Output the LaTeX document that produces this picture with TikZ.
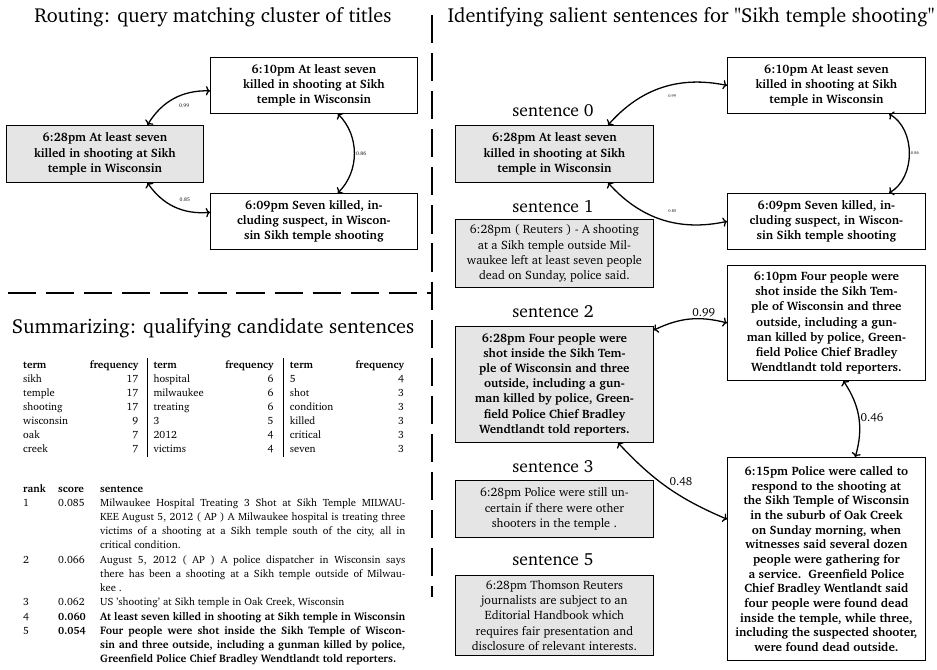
\documentclass[tikz,border=0pt]{standalone}
\usepackage[T1]{fontenc}
\renewcommand{\rmdefault}{bch}
\usetikzlibrary{calc,arrows.meta}
\definecolor{BoxClr}{gray}{0.9}
\setlength{\arrayrulewidth}{0.6pt}

\begin{document}
\begin{tikzpicture}[x=0.03cm,y=0.03cm,>={To[length=3.5pt,width=8pt]},
  head/.style={font=\fontsize{17.3}{20}\selectfont},
  sent/.style={font=\fontsize{15}{18}\selectfont},
  tbox/.style={draw,line width=0.7pt,anchor=north west,align=center,inner sep=2pt,font=\fontsize{10.4}{13}\selectfont\bfseries},
  rbox/.style={tbox,font=\fontsize{10.4}{13}\selectfont},
  link/.style={<->,line width=1.1pt},
  wlab/.style={font=\fontsize{4.5}{5}\selectfont,inner sep=1pt},
  tlab/.style={font=\fontsize{3.5}{4}\selectfont,inner sep=1pt},
  nlab/.style={font=\fontsize{10}{12}\selectfont,inner sep=1pt},
  sepline/.style={line width=0.9pt,dash pattern=on 24pt off 8.5pt}]
\useasboundingbox (0,0) rectangle (937,-669);

\node[head] (TR) at (213,-17) {Routing: query matching cluster of titles};
\node[head] (TS) at (213,-328) {Summarizing: qualifying candidate sentences};
\node[head] (TI) at (691,-17) {Identifying salient sentences for "Sikh temple shooting"};

\draw[sepline] (432,-15) -- (432,-597);
\draw[sepline] (8,-293) -- (432,-293);

\node[tbox,minimum width=6.21cm,minimum height=1.68cm] (LA) at (210,-57) {6:10pm At least seven\\killed in shooting at Sikh\\temple in Wisconsin};
\node[tbox,fill=BoxClr,minimum width=5.91cm,minimum height=1.71cm] (LB) at (6,-125) {6:28pm At least seven\\killed in shooting at Sikh\\temple in Wisconsin};
\node[tbox,minimum width=6.21cm,minimum height=1.68cm] (LC) at (210,-193) {6:09pm Seven killed, in-\\cluding suspect, in Wiscon-\\sin Sikh temple shooting};

\draw[link] ($(LB.north)!.43!(LB.north east)$) to[bend left=30] node[midway,below right=3pt,wlab] (W1) {0.99} (LA.183);
\draw[link] ($(LB.south)!.43!(LB.south east)$) to[bend right=30] node[midway,above right=3pt,wlab] (W2) {0.85} (LC.175);
\draw[link] ($(LA.south)!.23!(LA.south east)$) to[bend left=45] node[midway,right,wlab] (W3) {0.86} ($(LC.north)!.23!(LC.north east)$);

\node[sent] (L0) at (553,-111) {sentence 0};
\node[sent] (L1) at (553,-207) {sentence 1};
\node[sent] (L2) at (553,-312) {sentence 2};
\node[sent] (L3) at (553,-467) {sentence 3};
\node[sent] (L5) at (553,-560) {sentence 5};

\node[tbox,minimum width=5.94cm,minimum height=1.68cm] (RA) at (727,-57) {6:10pm At least seven\\killed in shooting at Sikh\\temple in Wisconsin};
\node[tbox,fill=BoxClr,minimum width=5.94cm,minimum height=1.71cm] (RB) at (455,-125) {6:28pm At least seven\\killed in shooting at Sikh\\temple in Wisconsin};
\node[tbox,minimum width=5.94cm,minimum height=1.68cm] (RC) at (727,-193) {6:09pm Seven killed, in-\\cluding suspect, in Wiscon-\\sin Sikh temple shooting};
\node[rbox,fill=BoxClr,minimum width=5.94cm,minimum height=2.04cm] (S1) at (455,-219) {6:28pm ( Reuters ) - A shooting\\at a Sikh temple outside Mil-\\waukee left at least seven people\\dead on Sunday, police said.};
\node[tbox,fill=BoxClr,minimum width=5.94cm,minimum height=3.48cm] (S2) at (455,-326) {6:28pm Four people were\\shot inside the Sikh Tem-\\ple of Wisconsin and three\\outside, including a gun-\\man killed by police, Green-\\field Police Chief Bradley\\Wendtlandt told reporters.};
\node[tbox,minimum width=5.94cm,minimum height=3.45cm] (RD) at (727,-265) {6:10pm Four people were\\shot inside the Sikh Tem-\\ple of Wisconsin and three\\outside, including a gun-\\man killed by police, Green-\\field Police Chief Bradley\\Wendtlandt told reporters.};
\node[tbox,font=\fontsize{10.4}{12.5}\selectfont\bfseries,minimum width=5.94cm,minimum height=6.09cm] (RE) at (727,-457) {6:15pm Police were called to\\respond to the shooting at\\the Sikh Temple of Wisconsin\\in the suburb of Oak Creek\\on Sunday morning, when\\witnesses said several dozen\\people were gathering for\\a service.\ \ Greenfield Police\\Chief Bradley Wentlandt said\\four people were found dead\\inside the temple, while three,\\including the suspected shooter,\\were found dead outside.};
\node[rbox,fill=BoxClr,minimum width=5.94cm,minimum height=1.71cm] (S3) at (455,-480) {6:28pm Police were still un-\\certain if there were other\\shooters in the temple .};
\node[rbox,fill=BoxClr,minimum width=5.94cm,minimum height=2.4cm] (S5) at (455,-575) {6:28pm Thomson Reuters\\journalists are subject to an\\Editorial Handbook which\\requires fair presentation and\\disclosure of relevant interests.};

\draw[link] ($(RB.north)!.54!(RB.north east)$) to[bend left=30] node[midway,below right=4pt,tlab] (T1) {0.99} (RA.west);
\draw[link] ($(RB.south)!.54!(RB.south east)$) to[bend right=30] node[midway,above right=4pt,tlab] (T2) {0.85} (RC.west);
\draw[link] ($(RA.south)!.63!(RA.south east)$) to[bend left=60] node[midway,right,tlab] (T3) {0.86} ($(RC.north)!.63!(RC.north east)$);
\draw[link] ($(S2.north east)!.035!(S2.south east)$) to[bend left=20] node[pos=.7,above,nlab] (N1) {0.99} (RD.west);
\draw[link] ($(RD.south)!.17!(RD.south east)$) to[bend left=25] node[midway,right,nlab] (N2) {0.46} ($(RE.north)!.29!(RE.north east)$);
\draw[link] ($(S2.south)!.64!(S2.south east)$) to[bend right=12] node[midway,above right,nlab] (N3) {0.48} ($(RE.west)!.39!(RE.north west)$);

\node[anchor=base west,inner sep=0pt,font=\fontsize{9}{12}\selectfont] (TF) at (23,-368) {%
\setlength{\tabcolsep}{0pt}%
\begin{tabular}[t]{@{}p{3.45cm}@{\hspace{0.27cm}}|@{\hspace{0.18cm}}p{3.6cm}@{\hspace{0.3cm}}|@{\hspace{0.18cm}}p{3.42cm}@{}}
\textbf{term}\hfill\textbf{frequency} & \textbf{term}\hfill\textbf{frequency} & \textbf{term}\hfill\textbf{frequency}\\
sikh\hfill 17 & hospital\hfill 6 & 5\hfill 4\\
temple\hfill 17 & milwaukee\hfill 6 & shot\hfill 3\\
shooting\hfill 17 & treating\hfill 6 & condition\hfill 3\\
wisconsin\hfill 9 & 3\hfill 5 & killed\hfill 3\\
oak\hfill 7 & 2012\hfill 4 & critical\hfill 3\\
creek\hfill 7 & victims\hfill 4 & seven\hfill 3
\end{tabular}};

\node[anchor=base west,inner sep=0pt,font=\fontsize{9}{12.15}\selectfont] (TK) at (23,-492) {%
\setlength{\tabcolsep}{0pt}%
\begin{tabular}[t]{@{}p{1.05cm}p{1.26cm}p{9.15cm}@{}}
\textbf{rank} & \textbf{score} & \textbf{sentence}\\
1 & 0.085 & \makebox[9.15cm][s]{Milwaukee Hospital Treating 3 Shot at Sikh Temple MILWAU-}\\
 & & \makebox[9.15cm][s]{KEE August 5, 2012 ( AP ) A Milwaukee hospital is treating three}\\
 & & \makebox[9.15cm][s]{victims of a shooting at a Sikh temple south of the city, all in}\\
 & & critical condition.\\
2 & 0.066 & \makebox[9.15cm][s]{August 5, 2012 ( AP ) A police dispatcher in Wisconsin says}\\
 & & \makebox[9.15cm][s]{there has been a shooting at a Sikh temple outside of Milwau-}\\
 & & kee .\\
3 & 0.062 & US 'shooting' at Sikh temple in Oak Creek, Wisconsin\\
4 & \textbf{0.060} & {\fontsize{9.35}{12.15}\selectfont\bfseries At least seven killed in shooting at Sikh temple in Wisconsin}\\
5 & \textbf{0.054} & \makebox[9.15cm][s]{\fontsize{9.35}{12.15}\selectfont\bfseries Four people were shot inside the Sikh Temple of Wiscon-}\\
 & & \makebox[9.15cm][s]{\fontsize{9.35}{12.15}\selectfont\bfseries sin and three outside, including a gunman killed by police,}\\
 & & {\fontsize{9.35}{12.15}\selectfont\bfseries Greenfield Police Chief Bradley Wendtlandt told reporters.}
\end{tabular}};

\end{tikzpicture}
\end{document}
